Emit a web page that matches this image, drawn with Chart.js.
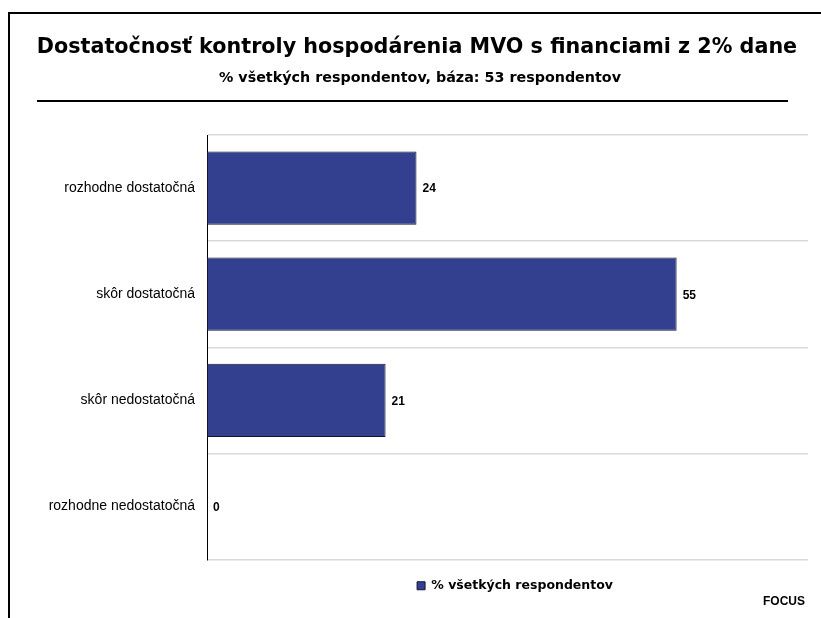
<!DOCTYPE html>
<html>
<head>
<meta charset="utf-8">
<script src="https://cdn.jsdelivr.net/npm/chart.js@4"></script>
<style>
  html, body { margin: 0; padding: 0; background: #fff; }
  #wrap { width: 821px; height: 618px; }
</style>
</head>
<body>
<div id="wrap"><canvas id="kontrola" width="821" height="618"></canvas></div>
<script>
// data (share of 53 respondents, labels are rounded)
let categories = ['rozhodne dostatočná', 'skôr dostatočná', 'skôr nedostatočná', 'rozhodne nedostatočná'];
let values = [24.4, 54.7, 20.8, 0];
let seriesName = '% všetkých respondentov';
let xMax = 70;

let barColor = '#333f8f';

// frame, line under the heading and the FOCUS signature
let decor = {
    id: 'decor',
    afterLayout: (chart) => {
        // legend and heading sit a bit right of the canvas centre
        let lg = chart.legend;
        lg.left = chart.chartArea.left + 15;
        lg.right = chart.chartArea.right;
        chart.titleBlock.left += 13;
        chart.titleBlock.right += 13;
        let sub = chart.boxes.find((b) => b !== chart.titleBlock && b.options && b.options.text === '% všetkých respondentov, báza: 53 respondentov');
        if (sub) {
            sub.left += 16;
            sub.right += 16;
        }
    },
    afterDraw: (chart) => {
        let c = chart.ctx;
        c.save();
        c.strokeStyle = '#000';
        c.lineWidth = 2;
        c.beginPath();
        c.moveTo(9, 618);
        c.lineTo(9, 13);
        c.lineTo(821, 13);
        c.stroke();
        c.beginPath();
        c.moveTo(37, 101);
        c.lineTo(788, 101);
        c.stroke();
        c.fillStyle = '#000';
        c.font = 'bold 12px "Liberation Sans", Arial, sans-serif';
        c.textAlign = 'right';
        c.textBaseline = 'middle';
        c.fillText('FOCUS', 805, 602);
        c.restore();
    }
};

// value next to each bar
let valueLabels = {
    id: 'valueLabels',
    afterDatasetsDraw: (chart) => {
        let c = chart.ctx;
        let meta = chart.getDatasetMeta(0);
        c.save();
        c.fillStyle = '#000';
        c.font = 'bold 12px "Liberation Sans", Arial, sans-serif';
        c.textAlign = 'left';
        c.textBaseline = 'middle';
        meta.data.forEach((bar, i) => {
            c.fillText(Math.round(values[i]), bar.x + 6, bar.y + 1);
        });
        c.restore();
    }
};

let ctx = document.getElementById('kontrola').getContext('2d');

let kontrola = new Chart(ctx, {
    type: 'bar',
    data: {
        labels: categories,
        datasets: [{
            label: seriesName,
            data: values,
            backgroundColor: barColor,
            borderColor: '#141433',
            borderWidth: 1,
            borderSkipped: false,
            barPercentage: 0.69,
            categoryPercentage: 1
        }]
    },
    options: {
        indexAxis: 'y',
        responsive: false,
        animation: false,
        layout: {
            padding: { left: 0, right: 13, top: 0, bottom: 16 }
        },
        scales: {
            x: {
                display: false,
                min: 0,
                max: xMax
            },
            y: {
                afterFit: (scale) => { scale.width = 207; },
                grid: {
                    color: '#d9d9d9',
                    lineWidth: 1.5,
                    drawTicks: false
                },
                border: { color: '#000', width: 1 },
                ticks: {
                    padding: 12,
                    color: '#000',
                    font: { family: '"Liberation Sans", Arial, sans-serif', size: 14 }
                }
            }
        },
        plugins: {
            title: {
                display: true,
                text: 'Dostatočnosť kontroly hospodárenia MVO s financiami z 2% dane',
                color: '#000',
                font: { family: '"DejaVu Sans", Verdana, sans-serif', size: 20.7, weight: 'bold', lineHeight: 1.2 },
                padding: { top: 35, bottom: 6 }
            },
            subtitle: {
                display: true,
                text: '% všetkých respondentov, báza: 53 respondentov',
                color: '#000',
                font: { family: '"DejaVu Sans", Verdana, sans-serif', size: 14.3, weight: 'bold', lineHeight: 1.2 },
                padding: { top: 4, bottom: 48 }
            },
            legend: {
                position: 'bottom',
                labels: {
                    boxWidth: 8,
                    boxHeight: 8,
                    padding: 20,
                    color: '#000',
                    font: { family: '"DejaVu Sans", Verdana, sans-serif', size: 12.5, weight: 'bold' }
                }
            },
            tooltip: { enabled: false }
        }
    },
    plugins: [decor, valueLabels]
});
</script>
</body>
</html>
